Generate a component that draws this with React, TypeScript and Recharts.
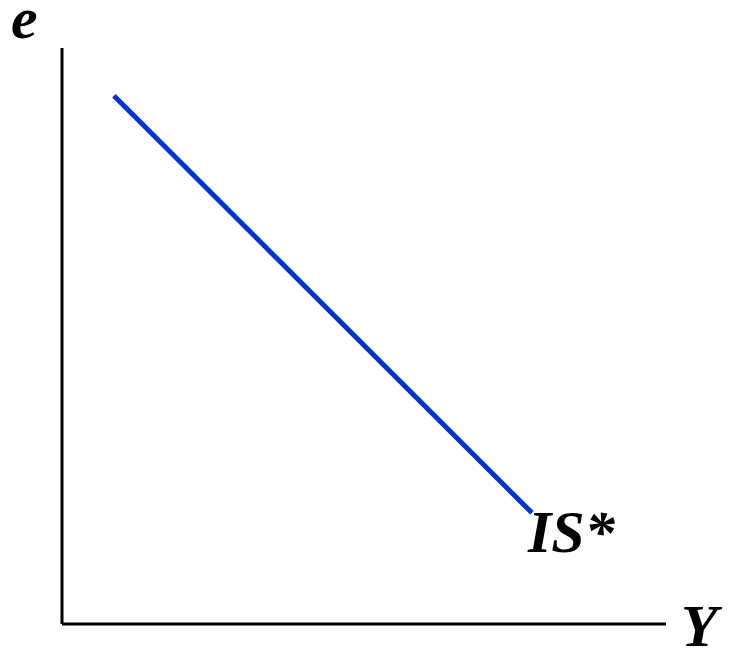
import React from 'react';
import { LineChart, Line, XAxis, YAxis, ReferenceLine } from 'recharts';

// IS* curve: output Y against exchange rate e (arbitrary units, 0..100)
const outputY = [8.6, 77.8];
const exchangeE = [91.7, 19.3];
const curveLabel = 'IS*';
const xAxisLabel = 'Y';
const yAxisLabel = 'e';

const data = outputY.map((y, i) => ({ Y: y, e: exchangeE[i] }));

const labelStyle: React.CSSProperties = {
    fontFamily: '"Liberation Serif", "Times New Roman", serif',
    fontWeight: 700,
    fontStyle: 'italic',
    fontSize: 60,
};

const EndLabel = (props: any) => {
    const { x, y, index } = props;
    if (index !== data.length - 1) return null;
    return (
        <text x={x - 4} y={y + 39} fill="#000" style={labelStyle}>{curveLabel}</text>
    );
};

export default function App() {
    return (
        <div style={{ position: 'absolute', left: 0, top: 0, width: 730, height: 649, background: '#fff' }}>
            <LineChart width={730} height={649} data={data} margin={{ top: 48, right: 64, bottom: 25, left: 62 }}>
                <XAxis dataKey="Y" type="number" domain={[0, 100]} hide />
                <YAxis dataKey="e" type="number" domain={[0, 100]} hide />
                <ReferenceLine x={0} stroke="#000" strokeWidth={3} ifOverflow="extendDomain" />
                <ReferenceLine y={0} stroke="#000" strokeWidth={3} ifOverflow="extendDomain" />
                <Line
                    dataKey="e" stroke="#0033CC" strokeWidth={5} dot={false}
                    isAnimationActive={false} label={<EndLabel />}
                />
                <text x={11} y={38} fill="#000" style={labelStyle}>{yAxisLabel}</text>
                <text x={681} y={646} fill="#000" style={labelStyle}>{xAxisLabel}</text>
            </LineChart>
        </div>
    );
}
